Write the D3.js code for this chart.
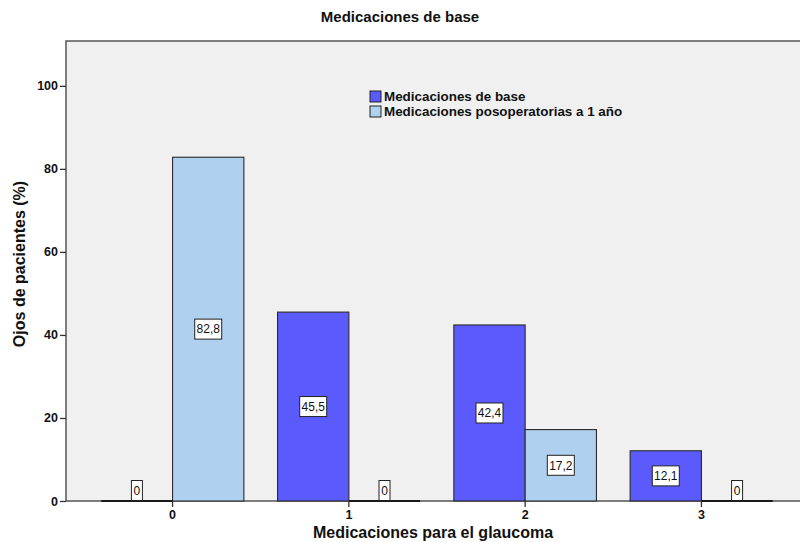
<!DOCTYPE html>
<html>
<head>
<meta charset="utf-8">
<script src="https://cdn.jsdelivr.net/npm/d3@7"></script>
<style>
  html, body { margin: 0; padding: 0; background: #ffffff; }
  svg { display: block; }
  text { font-family: "Liberation Sans", Arial, Helvetica, sans-serif; font-weight: bold; fill: #111; }
</style>
</head>
<body>
<svg id="chart" width="800" height="542"></svg>
<script>
// Number of glaucoma medications per eye, before surgery and one year after
const categories = ["0", "1", "2", "3"];
const seriesNames = ["Medicaciones de base", "Medicaciones posoperatorias a 1 año"];
const baseValues = [0, 45.5, 42.4, 12.1];
const postopValues = [82.8, 0, 17.2, 0];
const yTicks = [0, 20, 40, 60, 80, 100];
const colors = ["#5b5bfd", "#afd0ee"];

const svg = d3.select("#chart");
const margin = { left: 66, top: 41, right: -8, bottom: 41 };
const W = 800, H = 542;
const x0 = margin.left, x1 = W - margin.right;
const yTop = margin.top, yBottom = H - margin.bottom;

const x = d3.scaleBand().domain(categories).range([x0, x1])
  .paddingInner(0.191).paddingOuter(0.2);
const xSub = d3.scaleBand().domain(seriesNames).range([0, x.bandwidth()]).padding(0);
const y = d3.scaleLinear().domain([0, 110.8]).range([yBottom, yTop]);

// plot background and frame
svg.append("rect")
  .attr("x", x0).attr("y", yTop)
  .attr("width", x1 - x0).attr("height", yBottom - yTop)
  .attr("fill", "#f0f0f0").attr("stroke", "#555").attr("stroke-width", 1.5);

const rows = categories.map((c, i) => ({
  cat: c,
  values: [
    { series: seriesNames[0], value: baseValues[i], color: colors[0] },
    { series: seriesNames[1], value: postopValues[i], color: colors[1] }
  ]
}));

const groups = svg.append("g").selectAll("g").data(rows).join("g")
  .attr("transform", d => `translate(${x(d.cat)},0)`);

// bars with a value
groups.selectAll("rect.bar").data(d => d.values.filter(v => v.value > 0)).join("rect")
  .attr("class", "bar")
  .attr("x", d => xSub(d.series))
  .attr("y", d => y(d.value))
  .attr("width", xSub.bandwidth())
  .attr("height", d => y(0) - y(d.value))
  .attr("fill", d => d.color)
  .attr("stroke", "#2a2a2a")
  .attr("stroke-width", 1.1);

// zero-valued bars collapse to a dark line on the baseline
groups.selectAll("line.zero").data(d => d.values.filter(v => v.value === 0)).join("line")
  .attr("class", "zero")
  .attr("x1", d => xSub(d.series))
  .attr("x2", d => xSub(d.series) + xSub.bandwidth())
  .attr("y1", y(0)).attr("y2", y(0))
  .attr("stroke", "#1a1a1a").attr("stroke-width", 2);

// value labels in white boxes
const fmt = v => v === 0 ? "0" : d3.format(".1f")(v).replace(".", ",");
const labels = groups.selectAll("g.lab").data(d => d.values).join("g")
  .attr("class", "lab")
  .attr("transform", d => {
    const cx = xSub(d.series) + xSub.bandwidth() / 2;
    const cy = d.value === 0 ? y(0) - 10.5 : (y(d.value) + y(0)) / 2;
    return `translate(${cx},${cy})`;
  });
labels.append("rect")
  .attr("x", d => d.value === 0 ? -5.5 : -13.5)
  .attr("y", -10)
  .attr("width", d => d.value === 0 ? 11 : 27)
  .attr("height", 20)
  .attr("fill", "#ffffff")
  .attr("stroke", "#222").attr("stroke-width", 1);
labels.append("text")
  .attr("text-anchor", "middle").attr("dy", "0.36em")
  .style("font-weight", "normal").style("font-size", "12px")
  .text(d => fmt(d.value));

// y axis
const yAxis = svg.append("g").attr("transform", `translate(${x0},0)`)
  .call(d3.axisLeft(y).tickValues(yTicks).tickSize(6).tickPadding(2));
yAxis.select(".domain").remove();
yAxis.selectAll("line").attr("stroke", "#333").attr("stroke-width", 1.3);
yAxis.selectAll("text").style("font-size", "12.5px").style("font-family", "Liberation Sans, Arial, sans-serif").style("font-weight", "bold").attr("fill", "#111");

// x axis
const xAxis = svg.append("g").attr("transform", `translate(0,${yBottom})`)
  .call(d3.axisBottom(x).tickSize(6).tickPadding(3));
xAxis.select(".domain").remove();
xAxis.selectAll("line").attr("stroke", "#333").attr("stroke-width", 1.3);
xAxis.selectAll("text").style("font-size", "12.5px").style("font-family", "Liberation Sans, Arial, sans-serif").style("font-weight", "bold").attr("fill", "#111");

// titles
svg.append("text").attr("x", 400).attr("y", 22)
  .attr("text-anchor", "middle").style("font-size", "15px")
  .text("Medicaciones de base");
svg.append("text").attr("x", 433).attr("y", 538)
  .attr("text-anchor", "middle").style("font-size", "16px")
  .text("Medicaciones para el glaucoma");
svg.append("text")
  .attr("transform", "translate(25,264) rotate(-90)")
  .attr("text-anchor", "middle").style("font-size", "16px")
  .text("Ojos de pacientes (%)");

// legend
const legend = svg.append("g").attr("transform", "translate(370,91)");
const li = legend.selectAll("g").data(seriesNames).join("g")
  .attr("transform", (d, i) => `translate(0,${i * 15})`);
li.append("rect").attr("width", 11).attr("height", 11)
  .attr("fill", (d, i) => colors[i]).attr("stroke", "#222").attr("stroke-width", 1);
li.append("text").attr("x", 14).attr("y", 5.5).attr("dy", "0.36em")
  .style("font-size", "13.4px").text(d => d);
</script>
</body>
</html>
